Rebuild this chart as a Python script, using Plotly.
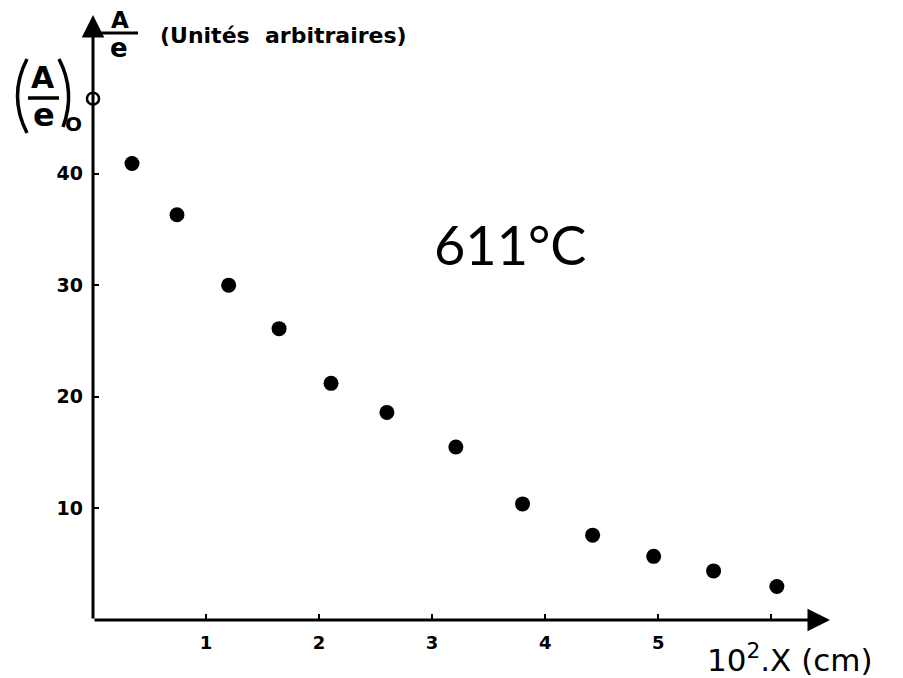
import plotly.graph_objects as go

# Data
x_cm = [0.345, 0.743, 1.20, 1.646, 2.106, 2.60, 3.21, 3.80, 4.42, 4.96, 5.49, 6.05]
a_over_e = [40.9, 36.3, 30.0, 26.1, 21.2, 18.6, 15.5, 10.4, 7.6, 5.7, 4.4, 3.0]
x0_val = [0.0]
a0_val = [46.7]
x_ticks = [1, 2, 3, 4, 5, 6]
x_tick_text = ["1", "2", "3", "4", "5", ""]
y_ticks = [10, 20, 30, 40]
y_tick_text = ["10", "20", "30", "40"]

OFF = 8  # page body margin
W, H = 903 - OFF, 678 - OFF
L, R, T, B = 93 - OFF, 73, 15 - OFF, 58
PW, PH = W - L - R, H - T - B
XMAX = 6.52
YMAX = 54.2


def px(x):
    return (x - OFF - L) / PW


def py(y):
    return (OFF + T + PH - y) / PH


fig = go.Figure()
fig.add_trace(go.Scatter(
    x=x_cm, y=a_over_e, mode="markers",
    marker=dict(size=15, color="black", symbol="circle"),
    cliponaxis=False, showlegend=False,
))
fig.add_trace(go.Scatter(
    x=x0_val, y=a0_val, mode="markers",
    marker=dict(size=12, color="black", symbol="circle-open", line=dict(width=2.5, color="black")),
    cliponaxis=False, showlegend=False,
))

font_small = dict(family="DejaVu Sans", size=18, color="black", weight="bold")

fig.update_layout(
    width=W, height=H,
    margin=dict(l=L, r=R, t=T, b=B, pad=0, autoexpand=False),
    paper_bgcolor="white", plot_bgcolor="white",
    xaxis=dict(range=[0, XMAX], showgrid=False, zeroline=False, showline=False,
               tickvals=x_ticks, ticktext=x_tick_text, ticks="inside", ticklen=6,
               tickwidth=2, tickcolor="black", tickfont=font_small,
               ticklabelstandoff=10, automargin=False),
    yaxis=dict(range=[0, YMAX], showgrid=False, zeroline=False, showline=False,
               tickvals=y_ticks, ticktext=y_tick_text, ticks="inside", ticklen=6,
               tickwidth=2, tickcolor="black",
               tickfont=dict(family="DejaVu Sans", size=19, color="black", weight="bold"),
               ticklabelstandoff=9, automargin=False),
)

# Axes with arrows
fig.add_annotation(x=XMAX, y=0, ax=0, ay=0, xref="x", yref="y", axref="x", ayref="y",
                   text="", showarrow=True, arrowhead=2, arrowsize=1.5, arrowwidth=3,
                   arrowcolor="black", standoff=0, startstandoff=0)
fig.add_annotation(x=0, y=YMAX, ax=0, ay=0, xref="x", yref="y", axref="x", ayref="y",
                   text="", showarrow=True, arrowhead=2, arrowsize=1.5, arrowwidth=3,
                   arrowcolor="black", standoff=0, startstandoff=0)


def label(x, y, text, **font):
    fig.add_annotation(x=px(x), y=py(y), xref="paper", yref="paper", showarrow=False,
                       xanchor="center", yanchor="middle", text=text,
                       font=dict(color="black", **font))


# Temperature label
label(510, 245, "611°C", family="Lato", size=54)

# x-axis title
label(790, 658, "10<sup>2</sup>.X (cm)", family="DejaVu Sans", size=31)

# y-axis title: A/e (Unités arbitraires)
label(120, 20, "A", family="DejaVu Sans", size=23, weight="bold")
fig.add_shape(type="line", xref="paper", yref="paper", x0=px(100), x1=px(138), y0=py(33), y1=py(33),
              line=dict(color="black", width=3))
label(119, 48, "e", family="DejaVu Sans", size=26, weight="bold")
label(283, 35, "(Unités&nbsp;&nbsp;arbitraires)", family="DejaVu Sans", size=22, weight="bold")

# (A/e)0 label
label(43, 77, "A", family="DejaVu Sans", size=30, weight="bold")
fig.add_shape(type="line", xref="paper", yref="paper", x0=px(28), x1=px(59), y0=py(98), y1=py(98),
              line=dict(color="black", width=3.5))
label(44, 115, "e", family="DejaVu Sans", size=32, weight="bold")
label(73, 124, "O", family="DejaVu Sans", size=20, weight="bold")
fig.add_shape(type="path", xref="paper", yref="paper",
              path=f"M {px(27)},{py(59)} Q {px(8)},{py(96)} {px(27)},{py(133)}",
              line=dict(color="black", width=3.5))
fig.add_shape(type="path", xref="paper", yref="paper",
              path=f"M {px(59)},{py(59)} Q {px(76)},{py(92)} {px(63)},{py(127)}",
              line=dict(color="black", width=3.5))

fig.write_html("out.html")
